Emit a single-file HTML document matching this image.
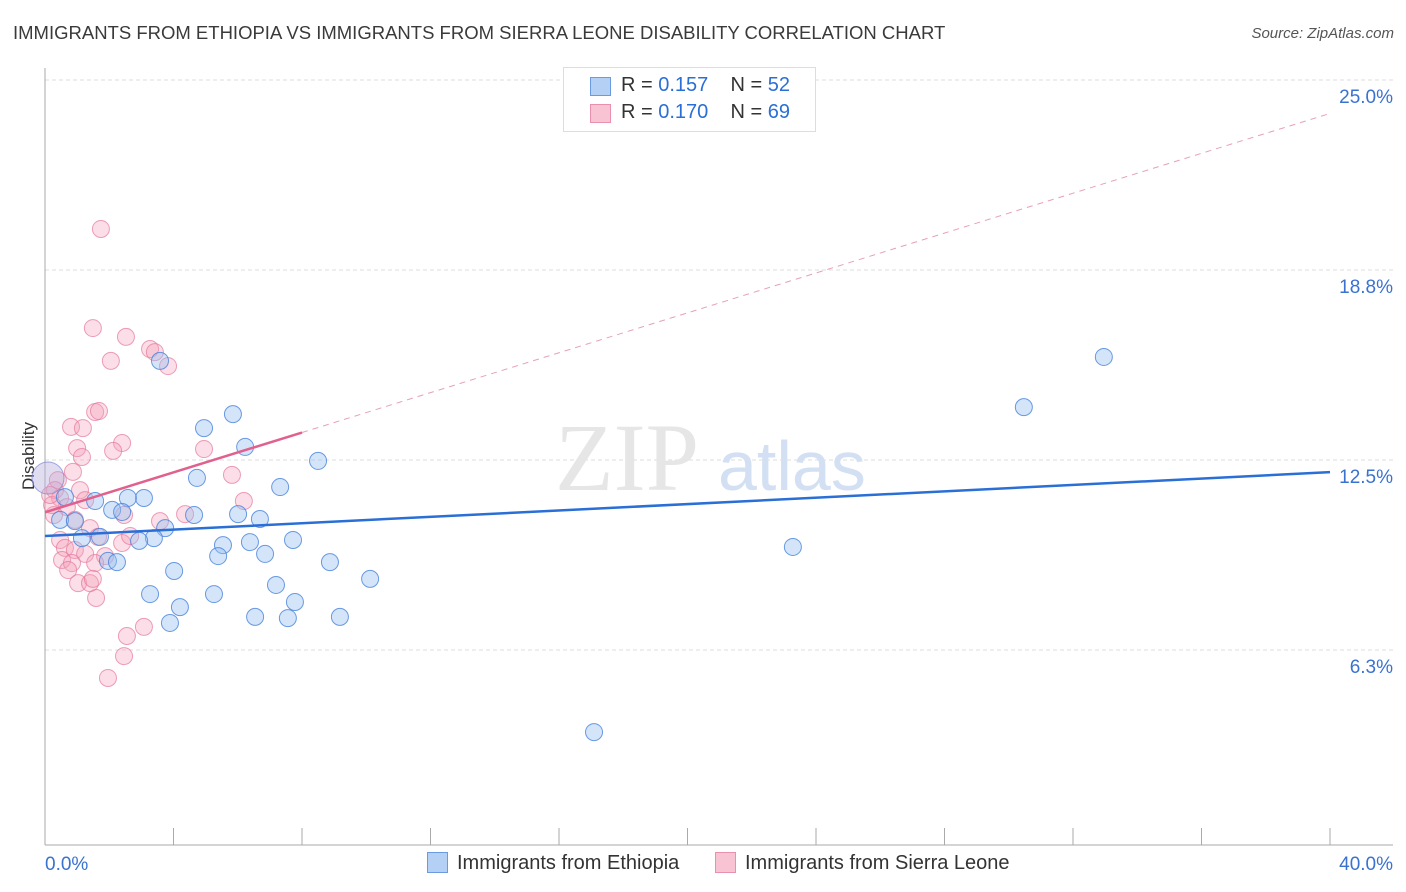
<!DOCTYPE html>
<html><head><meta charset="utf-8"><style>
body{margin:0;background:#fff;font-family:"Liberation Sans",sans-serif;}
#c{position:relative;width:1406px;height:892px;overflow:hidden}
.t{position:absolute;white-space:nowrap}
</style></head><body>
<div id="c">
<div class="t" style="left:13px;top:22px;font-size:18.5px;color:#3a3a3a">IMMIGRANTS FROM ETHIOPIA VS IMMIGRANTS FROM SIERRA LEONE DISABILITY CORRELATION CHART</div>
<div class="t" style="right:12px;top:25px;font-size:15px;color:#555;font-style:italic">Source: ZipAtlas.com</div>
<svg id="s" width="1406" height="892" style="position:absolute;left:0;top:0"></svg>
</div>
<script>
const xTicks=[0,40];
const yTicks=[6.25,12.5,18.75,25];
const yTickLabels=["6.3%","12.5%","18.8%","25.0%"];
const bluePx=[[1104,357],[1024,407],[793,547],[594,732],[160,361],[233,414],[204,428],[245,447],[318,461],[197,478],[280,487],[144,498],[128,498],[95,501],[112,510],[122,512],[238,514],[194,515],[260,519],[165,528],[154,538],[139,541],[250,542],[223,545],[293,540],[82,538],[100,537],[218,556],[265,554],[108,561],[117,562],[330,562],[174,571],[370,579],[276,585],[150,594],[214,594],[180,607],[295,602],[255,617],[288,618],[340,617],[170,623],[65,497],[60,520],[75,521]];
const pinkPx=[[101,229],[93,328],[126,337],[111,361],[150,349],[155,352],[168,366],[95,412],[99,411],[71,427],[83,428],[122,443],[77,448],[82,457],[113,451],[204,449],[232,475],[73,472],[80,490],[58,480],[55,490],[60,498],[85,500],[244,501],[67,507],[54,515],[75,520],[160,521],[185,514],[124,515],[90,528],[98,537],[122,543],[60,540],[65,548],[75,550],[85,554],[105,556],[62,560],[72,563],[68,570],[95,563],[78,583],[90,583],[93,579],[96,598],[130,536],[127,636],[124,656],[108,678],[144,627],[52,505],[50,495]];
const blueX=bluePx.map(p=>+((p[0]-45)/32.125).toFixed(2));
const blueY=bluePx.map(p=>+(25-(p[1]-80)/30.4).toFixed(2));
const pinkX=pinkPx.map(p=>+((p[0]-45)/32.125).toFixed(2));
const pinkY=pinkPx.map(p=>+(25-(p[1]-80)/30.4).toFixed(2));
const blueTrend=[10.0,12.1];
const pinkTrend=[10.78,23.9];
const pinkSolidEnd=8;
const X=v=>45+v*32.125, Y=v=>80+(25-v)*30.4;
const s=document.getElementById('s');const NS='http://www.w3.org/2000/svg';
function el(t,a,p){const e=document.createElementNS(NS,t);for(const k in a)e.setAttribute(k,a[k]);(p||s).appendChild(e);return e;}
yTicks.forEach((v,i)=>{
 const g=el('line',{x1:45,x2:1393,y1:Y(v),y2:Y(v),stroke:'#ddd','stroke-dasharray':'4 3'});
 
 
 const t=el('text',{x:1393,y:Y(v)+23,'text-anchor':'end','font-size':19,fill:'#3a72d0'});t.textContent=yTickLabels[i];
 
 
});
const ax=el('line',{x1:45,x2:45,y1:68,y2:845,stroke:'#aaa'});

const bx=el('line',{x1:45,x2:1393,y1:845,y2:845,stroke:'#aaa'});

for(let i=0;i<=10;i++){const tk=el('line',{x1:X(i*4),x2:X(i*4),y1:828,y2:845,stroke:'#aaa'});
 
 }
xTicks.forEach(v=>{const t=el('text',{x:v==0?45:1393,y:870,'text-anchor':v==0?'start':'end','font-size':19,fill:'#3a72d0'});t.textContent=v.toFixed(1)+'%';
 
 });
const yl=el('text',{x:34,y:456,'text-anchor':'middle','font-size':17,fill:'#333',transform:'rotate(-90 34 456)'});yl.textContent='Disability';

const w1=el('text',{x:555,y:490,'font-size':96,fill:'#e6e6e6','font-family':'Liberation Serif'});w1.textContent='ZIP';

const w2=el('text',{x:718,y:490,'font-size':70,fill:'#d3e0f3'});w2.textContent='atlas';

pinkX.forEach((x,i)=>{const c=el('circle',{cx:X(x),cy:Y(pinkY[i]),r:8.5,fill:'rgba(244,160,185,0.35)',stroke:'rgba(230,120,155,0.7)','stroke-width':1});
 });
blueX.forEach((x,i)=>{const c=el('circle',{cx:X(x),cy:Y(blueY[i]),r:8.5,fill:'rgba(150,190,240,0.4)',stroke:'rgba(70,130,220,0.8)','stroke-width':1});
 });
const big=el('circle',{cx:48,cy:478,r:16,fill:'rgba(180,170,220,0.4)',stroke:'rgba(120,130,210,0.7)'});

const bt=el('line',{x1:X(0),y1:Y(blueTrend[0]),x2:X(40),y2:Y(blueTrend[1]),stroke:'#2a6fd6','stroke-width':2.5});

const pm=pinkTrend[0]+(pinkTrend[1]-pinkTrend[0])*pinkSolidEnd/40;
const pd=el('line',{x1:X(pinkSolidEnd),y1:Y(pm),x2:X(40),y2:Y(pinkTrend[1]),stroke:'#e6a0b8','stroke-width':1,'stroke-dasharray':'6 5'});

const ps=el('line',{x1:X(0),y1:Y(pinkTrend[0]),x2:X(pinkSolidEnd),y2:Y(pm),stroke:'#e0608e','stroke-width':2.5});

</script>
<div class="t" style="left:563px;top:67px;width:251px;height:63px;border:1px solid #ddd;background:#fff;font-size:20px;color:#333">
 <div style="position:absolute;left:26px;top:9px;width:19px;height:17px;background:#b5d0f5;border:1px solid #6a9be0"></div>
 <div style="position:absolute;left:57px;top:6px">R = <span style="color:#2a6fd6">0.157</span>&nbsp;&nbsp;&nbsp; N = <span style="color:#2a6fd6">52</span></div>
 <div style="position:absolute;left:26px;top:36px;width:19px;height:17px;background:#f8c4d4;border:1px solid #e890ae"></div>
 <div style="position:absolute;left:57px;top:33px">R = <span style="color:#2a6fd6">0.170</span>&nbsp;&nbsp;&nbsp; N = <span style="color:#2a6fd6">69</span></div>
</div>
<div class="t" style="left:427px;top:852px;font-size:20px;color:#333">
 <span style="display:inline-block;width:19px;height:19px;background:#b5d0f5;border:1px solid #6a9be0;vertical-align:-4px;margin-right:9px"></span>Immigrants from Ethiopia</div>
<div class="t" style="left:715px;top:852px;font-size:20px;color:#333">
 <span style="display:inline-block;width:19px;height:19px;background:#f8c4d4;border:1px solid #e890ae;vertical-align:-4px;margin-right:9px"></span>Immigrants from Sierra Leone</div>
</body></html>
